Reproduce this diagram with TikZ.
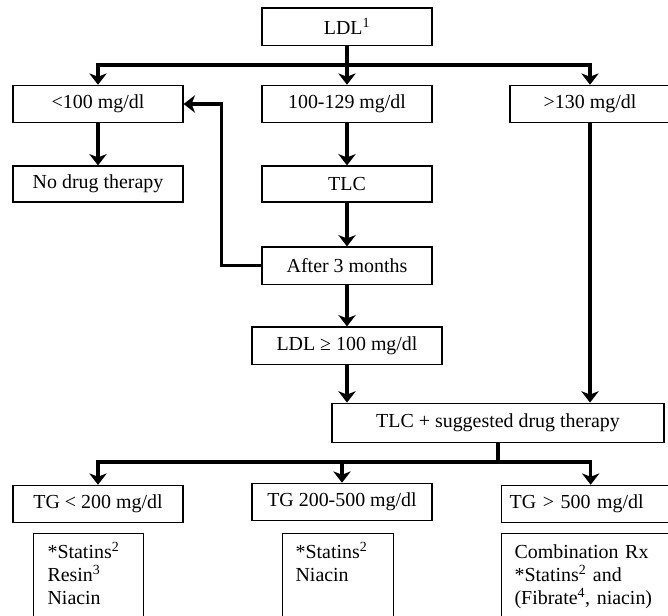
\documentclass[tikz,border=0pt]{standalone}
\usepackage{fontspec}
\setmainfont{Liberation Serif}
\usepackage{tikz}
\usetikzlibrary{arrows.meta, positioning, calc}

\begin{document}
\begin{tikzpicture}[
                    box/.style={
			draw,
			line width=1pt,
			text centered,
			inner sep=0pt,
			minimum width=5.1cm,
			minimum height=1.12cm,
			font=\fontsize{17pt}{19.6pt}\selectfont,
			anchor=center,
		}, drugbox/.style={
			draw,
			line width=1pt,
			align=left,
			anchor=north west,
			inner xsep=0.4cm,
			inner ysep=0.34cm,
			text height=0.42cm,
			text depth=3cm,
			font=\fontsize{17pt}{19.6pt}\selectfont,
		}, flow/.style={
			line width=2.6pt,
			-{Stealth[length=0.34cm, width=0.52cm, inset=0.1cm]},
		}, ]

\useasboundingbox (0,0) rectangle (20.04,-18.45);
\clip (0,0) rectangle (20.04,-18.45);

% ------ LDL levels ------- %
\draw
(10.41,-0.80) node[box](ldl){LDL\textsuperscript{1}}
(2.94,-3.12) node[box](lt100){<100 mg/dl}
(10.41,-3.12) node[box](mid100){100-129 mg/dl}
(17.70,-3.12) node[box, minimum width=4.8cm](gt130){>130 mg/dl}
(2.94,-5.52) node[box, minimum height=1.08cm](nodrug){No drug therapy}
(10.41,-5.52) node[box, minimum height=1.08cm](tlc){TLC}
(10.41,-7.97) node[box](after3){After 3 months}
(10.41,-10.37) node[box, minimum width=5.7cm](ldlge){LDL ≥ 100 mg/dl}
(14.94,-12.68) node[box, minimum width=9.96cm, minimum height=1.17cm](tlcdrug){TLC + suggested drug therapy}
;
\coordinate (split_ldl) at (10.41,-1.95);

\draw [line width=2.6pt] (ldl.south) -- (split_ldl);
\draw [flow] (split_ldl) -| (lt100.north);
\draw [flow] (split_ldl) -- (mid100.north);
\draw [flow] (split_ldl) -| (gt130.north);
\draw [flow] (lt100.south) -- (nodrug.north);
\draw [flow] (mid100.south) -- (tlc.north);
\draw [flow] (tlc.south) -- (after3.north);
\draw [flow] (after3.west) -- ++(-1.2,0) |- (lt100.east);
\draw [flow] (after3.south) -- (ldlge.north);
\draw [flow] (ldlge.south) -- (ldlge.south |- tlcdrug.north);
\draw [flow] (gt130.south) -- (gt130.south |- tlcdrug.north);

% -------- TG levels --------- %
\draw
(2.94,-15.12) node[box](tglow){TG < 200 mg/dl}
(10.26,-15.06) node[box, minimum width=5.4cm](tgmid){TG 200-500 mg/dl}
(17.72,-15.12) node[box, text width=4.86cm, inner xsep=0.255cm, align=left](tghigh){TG > 500 mg/dl}
;
\coordinate (split_tg) at (14.94,-13.86);

\draw [line width=2.6pt] (tlcdrug.south) -- (split_tg);
\draw [flow] (split_tg) -| (tglow.north);
\draw [flow] (split_tg) -| (tgmid.north);
\draw [flow] (split_tg) -| (tghigh.north);

% -------- Drugs --------- %
\node [drugbox, text width=2.46cm, inner xsep=0.42cm] (drlow) at (0.99,-15.99) {*Statins\textsuperscript{2}\\{}Resin\textsuperscript{3}\\{}Niacin};
\node [drugbox, text width=2.55cm, inner xsep=0.39cm] (drmid) at (8.46,-15.99) {*Statins\textsuperscript{2}\\{}Niacin};
\node [drugbox, text width=6cm, inner xsep=0.39cm] (drhigh) at (15.03,-15.99) {Combination Rx\\{}*Statins\textsuperscript{2} and\\{}(Fibrate\textsuperscript{4}, niacin)};

\end{tikzpicture}
\end{document}
